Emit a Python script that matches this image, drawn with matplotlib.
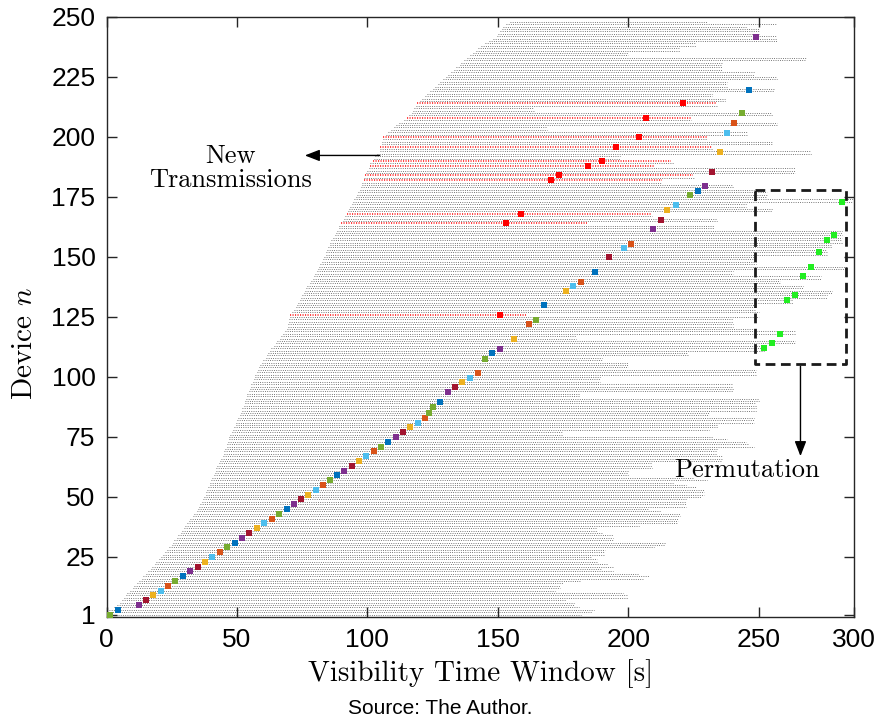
import matplotlib
matplotlib.use("Agg")
import matplotlib.pyplot as plt

plt.rcParams['mathtext.fontset'] = 'cm'
plt.rcParams['lines.scale_dashes'] = False

# ---------------- data ----------------
# visibility window of each device n = 1..248 : start / end time [s]
device_start = [
    0, 0.5, 1, 3, 4, 5, 6, 6.5, 7.5, 8,
    9, 10, 10.5, 11.5, 12.5, 13.5, 14, 15, 16, 17,
    17.5, 18.5, 19, 20, 21, 21.5, 22.5, 23, 24, 25,
    25.5, 26, 27, 27.5, 28.5, 29, 29.5, 30, 31, 31.5,
    32, 33, 33.5, 34.5, 35, 35.5, 36, 36.5, 37, 37.5,
    38, 38, 38.5, 39, 39.5, 39.5, 40, 40.5, 41, 41.5,
    42, 42, 42.5, 43, 43.5, 44, 44.5, 45, 45, 45.5,
    46, 46, 46.5, 47, 47, 47.5, 48, 48.5, 49, 49.5,
    49.5, 50, 50.5, 51, 51.5, 52, 52, 52.5, 53, 53,
    53.5, 53.7, 54, 54.5, 55, 55.5, 55.5, 56, 56.5, 57,
    57, 57.5, 58, 58.5, 59, 59.5, 60, 61, 61.5, 62,
    62.5, 63, 64, 65, 65.5, 66.5, 67, 67.5, 68.5, 69,
    69.5, 69.5, 70, 70, 70.5, 70.5, 71, 72, 72.5, 73,
    73.5, 74, 74.5, 75, 75.5, 76, 76.5, 77, 78, 78.5,
    79, 79.5, 80, 80.5, 81, 81.5, 82, 82.5, 83, 83.5,
    84, 84, 84.5, 85, 85.5, 85.5, 86, 86.7, 87.5, 88,
    88.5, 89, 89, 89.7, 90.5, 91, 91.5, 92, 92.5, 93,
    93.5, 94, 94.5, 95, 95.5, 96, 96.5, 97, 97.5, 98,
    98, 98.5, 98.6, 99, 99.5, 100, 100.5, 100.9, 101, 102,
    102.5, 103, 103.5, 104.7, 105, 105, 105.5, 105.5, 106, 106,
    107, 108, 109, 110, 111, 112, 114, 115, 116, 117,
    117.5, 118, 118.5, 119, 120, 121, 122, 123, 124, 125,
    126, 127, 128, 129, 130, 131, 132, 133, 134, 135.5,
    136, 137, 138, 139.5, 140.5, 141.5, 142.5, 143.5, 145, 146.5,
    148, 149.5, 150, 151, 151.5, 152, 153, 154.6,
]
device_end = [
    182, 186, 187, 181, 179, 179, 176, 200, 200, 198,
    172, 174, 174, 175, 182, 206, 208, 204, 194, 190,
    194, 192, 188, 188, 186, 191, 191, 191, 210, 214,
    214, 194, 194, 194, 190, 188, 188, 204, 219, 219,
    219, 220, 220, 212, 208, 222, 222, 222, 222, 228,
    229, 229, 229, 226, 222, 217, 230, 225, 200, 200,
    200, 209, 209, 209, 236, 236, 236, 234, 234, 234,
    248, 246, 245, 238, 232, 175, 175, 231, 234, 234,
    248, 248, 248, 231, 231, 249, 249, 249, 249, 250,
    250, 181, 181, 240, 240, 240, 240, 189, 189, 189,
    249, 249, 249, 200, 200, 200, 190, 190, 223, 223,
    252, 252, 252, 264, 264, 180, 180, 264, 264, 248,
    240, 240, 240, 240, 250, 160.7, 250, 249, 249, 249,
    263, 263, 276, 276, 278, 278, 267, 267, 258, 258,
    274, 274, 240, 240, 284, 284, 249, 249, 249, 249,
    276, 276, 276, 278, 278, 282, 282, 282, 282, 282,
    282, 233, 233, 184, 234, 234, 209, 208.8, 255, 255,
    245, 245, 286, 286, 253, 253, 253, 248, 240, 240,
    213, 213, 225, 224.8, 264, 264, 264, 210, 217, 216.5,
    197, 197, 270, 270, 232, 232, 255, 255, 230, 230,
    246, 246, 169, 169, 257, 257, 224, 224, 255, 255,
    164, 164, 234, 233.7, 237, 237, 232, 232, 256, 256,
    238, 238, 238, 257, 257, 248, 248, 236, 236, 236,
    236, 268, 268, 200, 200, 220, 220, 226, 226, 257,
    257, 257, 250, 250, 250, 245, 257, 230,
]

# devices with new transmissions (red) and their transmission instants
new_tx_devices = [126, 164, 168, 182, 184, 188, 190, 196, 200, 208, 214]
new_tx_times = [150.7, 153.3, 159, 170.5, 173.3, 184.6, 189.8, 195.4, 204, 206.8, 221]

# scheduled devices (coloured squares) and their transmission instants
sched_devices = [
    1, 3, 5, 7, 9, 11, 13, 15, 17, 19, 21, 23, 25, 27, 29, 31, 33, 35, 37, 39,
    41, 43, 45, 47, 49, 51, 53, 55, 57, 59, 61, 63, 65, 67, 69, 71, 73, 75, 77, 79,
    81, 83, 85, 87.6, 89.7, 93.6, 95.7, 97.7, 99.7, 101.7, 107.6, 109.8, 111.7, 115.7,
    122, 123.75, 129.9, 135.8, 137.9, 139.7, 143.9, 149.9, 153.6, 155.4, 161.5, 165.5,
    169.6, 171.7, 175.7, 177.6, 179.7, 185.5, 193.6, 201.8, 205.7, 209.9, 219.6, 241.8,
]
sched_times = [
    1.3, 4.2, 12.4, 15.1, 17.9, 20.7, 23.5, 26.3, 29.3, 32.1, 34.9, 37.8, 40.6, 43.3,
    46.1, 49.1, 51.9, 54.7, 57.5, 60.4, 63.3, 66, 69, 71.7, 74.5, 77.3, 80.1, 82.9, 85.6,
    88.4, 91.2, 94, 96.8, 99.6, 102.4, 105.2, 108, 110.8, 113.6, 116.4, 119.2, 122, 123.5,
    125.2, 128, 130.9, 133.6, 136.4, 139.2, 142.2, 145, 147.8, 150.7, 156.2,
    162, 164.8, 167.7, 176, 178.8, 181.8, 187.2, 192.6, 198.2, 201.2, 209.5, 212.4,
    215, 218.2, 223.6, 226.6, 229.4, 232, 235, 237.8, 240.6, 243.4, 246.2, 249,
]
sched_color_keys = [
    'G', 'B', 'P', 'D', 'Y', 'L', 'O', 'G', 'B', 'P', 'D', 'Y', 'L', 'O', 'G', 'B', 'P', 'D', 'Y', 'L',
    'O', 'G', 'B', 'P', 'D', 'Y', 'L', 'O', 'G', 'B', 'P', 'D', 'Y', 'L', 'O', 'G', 'B', 'P', 'D', 'Y',
    'L', 'O', 'G', 'G', 'B', 'P', 'D', 'Y', 'L', 'O', 'G', 'B', 'P', 'Y',
    'O', 'G', 'B', 'Y', 'L', 'O', 'B', 'D', 'L', 'O', 'P', 'D',
    'Y', 'L', 'G', 'B', 'P', 'D', 'Y', 'L', 'O', 'G', 'B', 'P',
]

# permuted devices (bright green) and their new transmission instants
perm_devices = [112, 114, 118, 132, 134, 142, 146, 152, 157, 159, 173]
perm_times = [252, 255, 258, 261, 264, 267, 270, 273, 276, 279, 282]

x_ticks = [0, 50, 100, 150, 200, 250]
x_tick_labels = ['0', '50', '100', '150', '200', '250']
y_ticks = [1, 25, 50, 75, 100, 125, 150, 175, 200, 225, 250]

# ---------------- styling ----------------
palette = {'B': '#0072BD', 'O': '#D95319', 'Y': '#EDB120', 'P': '#7E2F8E',
           'G': '#77AC30', 'L': '#4DBEEE', 'D': '#A2142F'}
dot_style = (0, (0.6, 1.0))
red_style = (0, (0.8, 1.0))

fig = plt.figure(figsize=(8.8, 7.28), dpi=100)
ax = fig.add_axes([0.1211, 0.1525, 0.8493, 0.8242])

red_set = set(new_tx_devices)
for i, (s, e) in enumerate(zip(device_start, device_end)):
    n = i + 1
    if n in red_set:
        ax.plot([s, e], [n, n], color='#FF1a1a', lw=1.15, linestyle=red_style,
                solid_capstyle='butt', zorder=2)
    else:
        ax.plot([s, e], [n, n], color='#3c3c3c', lw=0.55, linestyle=dot_style,
                solid_capstyle='butt', zorder=1)

for n, t, k in zip(sched_devices, sched_times, sched_color_keys):
    ax.plot(t, n, 's', color=palette[k], markersize=4.8, markeredgewidth=0, zorder=4)
ax.plot(new_tx_times, new_tx_devices, 's', color='#FF0000', markersize=4.8,
        markeredgewidth=0, zorder=4)
ax.plot(perm_times, perm_devices, 's', color='#22EE22', markersize=4.0,
        markeredgewidth=0, zorder=4)

# permutation box
bx0, bx1, by0, by1 = 248.7, 283.6, 105.2, 177.9
ax.plot([bx0, bx1, bx1, bx0, bx0], [by1, by1, by0, by0, by1], color='#1a1a1a',
        lw=2.0, linestyle=(0, (7, 4)), zorder=5, clip_on=False)

# annotations
serif = 'cmr10'
ax.annotate('', xy=(76, 192.3), xytext=(104.7, 192.3),
            arrowprops=dict(arrowstyle='-|>,head_length=0.9,head_width=0.35',
                            color='black', lw=1.0, shrinkA=0, shrinkB=0))
ax.text(47.5, 187, 'New\nTransmissions', family=serif, fontsize=19,
        ha='center', va='center', linespacing=1.0)
ax.annotate('', xy=(266, 67), xytext=(266, 104.5),
            arrowprops=dict(arrowstyle='-|>,head_length=0.9,head_width=0.35',
                            color='black', lw=1.0, shrinkA=0, shrinkB=0))
ax.text(245.4, 61.2, 'Permutation', family=serif, fontsize=19,
        ha='center', va='center')

ax.set_xlim(0, 286.5)
ax.set_ylim(0, 250)
ax.set_xticks(x_ticks + [286.5])
ax.set_xticklabels(x_tick_labels + ['300'])
ax.set_yticks(y_ticks)
ax.set_yticklabels([str(v) for v in y_ticks])
ax.tick_params(direction='in', top=True, right=True, length=7, width=1,
               labelsize=19, color='#262626', pad=8)
for lab in ax.get_xticklabels() + ax.get_yticklabels():
    lab.set_family('Liberation Sans')
for sp in ax.spines.values():
    sp.set_color('#262626')
    sp.set_linewidth(1.0)

ax.set_xlabel('Visibility Time Window [s]', family=serif, fontsize=21, labelpad=5)
ax.set_ylabel('Device $n$', family=serif, fontsize=21, labelpad=6)
ax.yaxis.set_label_coords(-0.092, 0.455)

fig.text(0.5, 0.027, 'Source: The Author.', family='Liberation Sans', fontsize=15,
         ha='center', va='center')

fig.savefig('out.png', dpi=100)
